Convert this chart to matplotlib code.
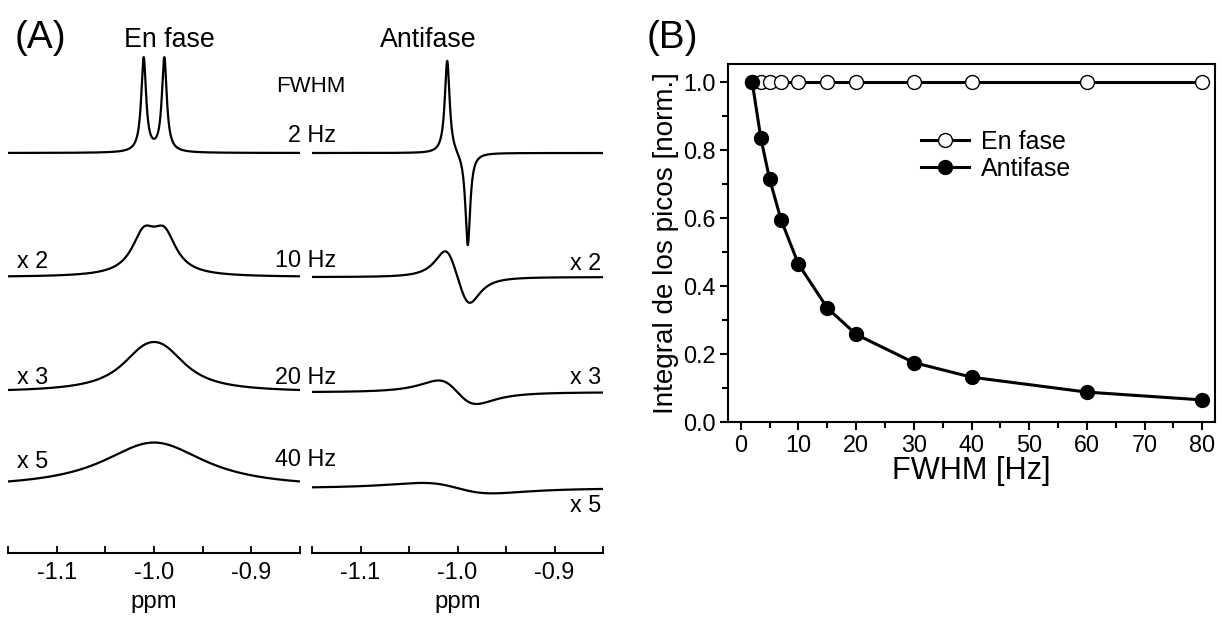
import numpy as np
import matplotlib
matplotlib.use("Agg")
import matplotlib.pyplot as plt
from matplotlib import font_manager
from matplotlib.ticker import MultipleLocator, FormatStrFormatter

# the original uses a narrow Arial-like face
try:
    font_manager.findfont('Liberation Sans Narrow', fallback_to_default=False)
    plt.rcParams['font.family'] = ['Liberation Sans Narrow', 'DejaVu Sans']
    k = 1.0
except ValueError:
    plt.rcParams['font.family'] = ['Liberation Sans', 'DejaVu Sans']
    k = 0.82

# ---- panel A: simulated doublets ----
fwhm_hz = [2, 10, 20, 40]
scale_in = [1, 2, 3, 5]          # "x 2", "x 3", "x 5"
baselines = [4.255, 2.935, 1.710, 0.690]   # vertical offset of each trace
j_hz = 7.0                       # coupling constant
hz_per_ppm = 330.0
center_ppm = -1.0

# ---- panel B: peak integrals ----
fwhm_b = [2, 3.5, 5, 7, 10, 15, 20, 30, 40, 60, 80]
integ_en_fase = [1.0] * 11
integ_antifase = [1.0, 0.835, 0.716, 0.595, 0.465, 0.336, 0.258, 0.175, 0.132, 0.088, 0.065]

W, H = 1222, 621
fig = plt.figure(figsize=(W / 100, H / 100), dpi=100)


def px(x, y):
    return x / W, 1 - y / H


def lorentz(ppm, pos, fwhm):
    g = fwhm / 2.0 / hz_per_ppm
    return (2.0 / fwhm) / (1 + ((ppm - pos) / g) ** 2)


ppm = np.linspace(-1.15, -0.85, 3000)
d = j_hz / 2.0 / hz_per_ppm

ax_in = fig.add_axes([8 / W, 1 - 553 / H, 292 / W, 513 / H])
ax_anti = fig.add_axes([312 / W, 1 - 553 / H, 291 / W, 513 / H])

for w, s, b in zip(fwhm_hz, scale_in, baselines):
    l1 = lorentz(ppm, center_ppm - d, w)
    l2 = lorentz(ppm, center_ppm + d, w)
    ax_in.plot(ppm, b + s * (l1 + l2), color='black', lw=1.6)
    ax_anti.plot(ppm, b + s * (l1 - l2), color='black', lw=1.6)

for ax in (ax_in, ax_anti):
    ax.set_xlim(-1.15, -0.85)
    ax.set_ylim(0, 5.457)
    for sp in ('top', 'right', 'left'):
        ax.spines[sp].set_visible(False)
    ax.spines['bottom'].set_linewidth(1.5)
    ax.set_yticks([])
    ax.xaxis.set_minor_locator(MultipleLocator(0.05))
    ax.set_xticks([-1.1, -1.0, -0.9])
    ax.set_xticklabels(['-1.1', '-1.0', '-0.9'])
    ax.tick_params(axis='x', which='both', direction='in', length=5, width=1.3,
                   labelsize=20.5 * k, pad=6)
    ax.set_xlabel('ppm', fontsize=21 * k, labelpad=5)

fig.text(*px(40, 38), '(A)', fontsize=34 * k, ha='center', va='center')
fig.text(*px(169, 40), 'En fase', fontsize=23.5 * k, ha='center', va='center')
fig.text(*px(428, 40), 'Antifase', fontsize=23.5 * k, ha='center', va='center')
fig.text(*px(311, 87), 'FWHM', fontsize=19.5 * k, ha='center', va='center')
hz_y = [135, 260, 378, 459]
for w, yy in zip(fwhm_hz, hz_y):
    fig.text(*px(336, yy), f'{w} Hz', fontsize=20.5 * k, ha='right', va='center')
left_y = [262, 378, 461]
right_y = [264, 378, 506]
for s, yl, yr in zip(scale_in[1:], left_y, right_y):
    fig.text(*px(17, yl), f'x {s}', fontsize=20.5 * k, ha='left', va='center')
    fig.text(*px(601, yr), f'x {s}', fontsize=20.5 * k, ha='right', va='center')

# ---- panel B ----
axb = fig.add_axes([728 / W, 1 - 422 / H, 487 / W, 358 / H])
axb.plot(fwhm_b, integ_en_fase, '-o', color='black', lw=2.2, ms=10,
         mfc='white', mec='black', mew=1.0, label='En fase', zorder=3)
axb.plot(fwhm_b, integ_antifase, '-o', color='black', lw=2.2, ms=10,
         mfc='black', mec='black', label='Antifase', zorder=4)
axb.set_xlim(-2.2, 82.2)
axb.set_ylim(0, 1.054)
axb.xaxis.set_major_locator(MultipleLocator(10))
axb.xaxis.set_minor_locator(MultipleLocator(5))
axb.yaxis.set_major_locator(MultipleLocator(0.2))
axb.yaxis.set_minor_locator(MultipleLocator(0.1))
axb.yaxis.set_major_formatter(FormatStrFormatter('%.1f'))
axb.tick_params(axis='both', which='major', direction='out', length=6, width=1.5,
                labelsize=20.5 * k, pad=3)
axb.tick_params(axis='both', which='minor', direction='out', length=4, width=1.5)
for sp in axb.spines.values():
    sp.set_linewidth(1.5)
axb.set_xlabel('FWHM [Hz]', fontsize=27 * k, labelpad=-1)
axb.set_ylabel('Integral de los picos [norm.]', fontsize=24.5 * k, labelpad=3)
axb.legend(loc='upper left', bbox_to_anchor=(0.35, 0.878), frameon=False,
           fontsize=22 * k, handlelength=1.9, handletextpad=0.5, labelspacing=0.1)
fig.text(*px(672, 38), '(B)', fontsize=34 * k, ha='center', va='center')

fig.savefig('out.png', dpi=100)
